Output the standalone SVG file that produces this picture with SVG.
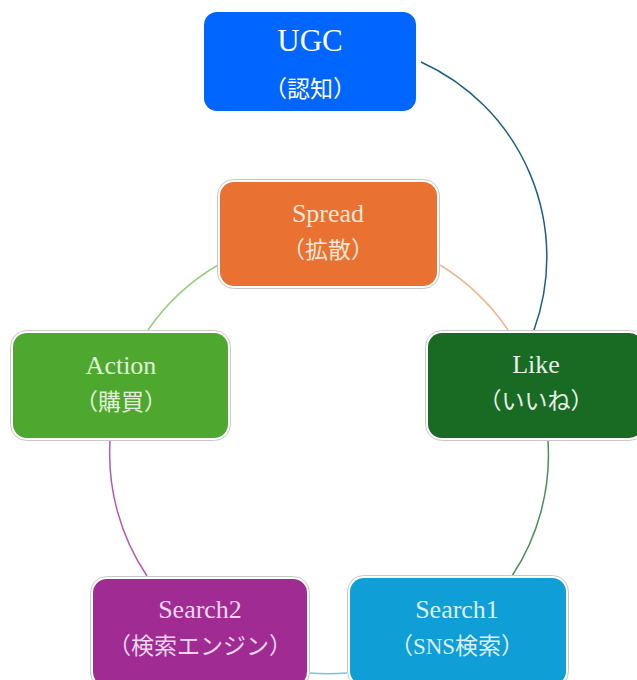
<svg xmlns="http://www.w3.org/2000/svg" width="637" height="680" viewBox="0 0 637 680">
  <style>
    .frame { fill: #ffffff; stroke: #c8c8c8; stroke-width: 1; }
    .lat { font-family: "Liberation Serif", "Noto Sans CJK JP", serif; font-size: 26px; text-anchor: middle; }
    .jp { font-family: "Liberation Serif", "Noto Sans CJK JP", serif; font-size: 23px; text-anchor: middle; }
    .big { font-size: 31px; }
    .conn { fill: none; stroke-width: 1.5; }
  </style>

  <!-- connectors: arcs of the cycle plus the long arc from UGC -->
  <g id="connectors">
    <path class="conn" d="M421,62 A214,214 0 0 1 534,330" stroke="#1b5f86" stroke-width="1.3"/>
    <path class="conn" d="M440,265 A219.5,219.5 0 0 1 508,330" stroke="#f2b592"/>
    <path class="conn" d="M548,441 A219.5,219.5 0 0 1 512,576" stroke="#4e8f58"/>
    <path class="conn" d="M347,673 A219.5,219.5 0 0 1 309,673" stroke="#6fc5e6"/>
    <path class="conn" d="M147,576 A219.5,219.5 0 0 1 110,441" stroke="#b35bb0"/>
    <path class="conn" d="M148,330 A219.5,219.5 0 0 1 218,265" stroke="#95cf80"/>
  </g>

  <g id="ugc">
    <rect x="204" y="12" width="212" height="99" rx="13" fill="#0066ff"/>
    <text class="lat big" x="310" y="51" fill="#ffffff">UGC</text>
    <text class="jp" x="310" y="97" fill="#ffffff">（認知）</text>
  </g>

  <g id="spread">
    <rect class="frame" x="217.5" y="179.5" width="222" height="109" rx="16"/>
    <rect x="220" y="182" width="217" height="104" rx="14" fill="#e97132"/>
    <text class="lat" x="328" y="222" fill="#fbe5d6">Spread</text>
    <text class="jp" x="328" y="258" fill="#fbe5d6">（拡散）</text>
  </g>

  <g id="action">
    <rect class="frame" x="10.5" y="330.5" width="220" height="110" rx="16"/>
    <rect x="13" y="333" width="215" height="105" rx="14" fill="#4ea72e"/>
    <text class="lat" x="121" y="374" fill="#e2f0d9">Action</text>
    <text class="jp" x="121" y="410" fill="#e2f0d9">（購買）</text>
  </g>

  <g id="like">
    <rect class="frame" x="425.5" y="330.5" width="220" height="110" rx="16"/>
    <rect x="428" y="333" width="215" height="105" rx="14" fill="#196b24"/>
    <text class="lat" x="536" y="373" fill="#e8f1e8">Like</text>
    <text class="jp" x="536" y="409" fill="#e8f1e8">（いいね）</text>
  </g>

  <g id="search2">
    <rect class="frame" x="90.5" y="576.5" width="219" height="112" rx="16"/>
    <rect x="93" y="579" width="214" height="107" rx="14" fill="#a02b93"/>
    <text class="lat" x="200" y="618" fill="#f2d7ee">Search2</text>
    <text class="jp" x="200" y="654" fill="#f2d7ee">（検索エンジン）</text>
  </g>

  <g id="search1">
    <rect class="frame" x="347.5" y="575.5" width="221" height="112" rx="16"/>
    <rect x="350" y="578" width="216" height="107" rx="14" fill="#0f9ed5"/>
    <text class="lat" x="457" y="618" fill="#ddeffa">Search1</text>
    <text class="jp" x="457" y="654" fill="#ddeffa">（SNS検索）</text>
  </g>
</svg>
